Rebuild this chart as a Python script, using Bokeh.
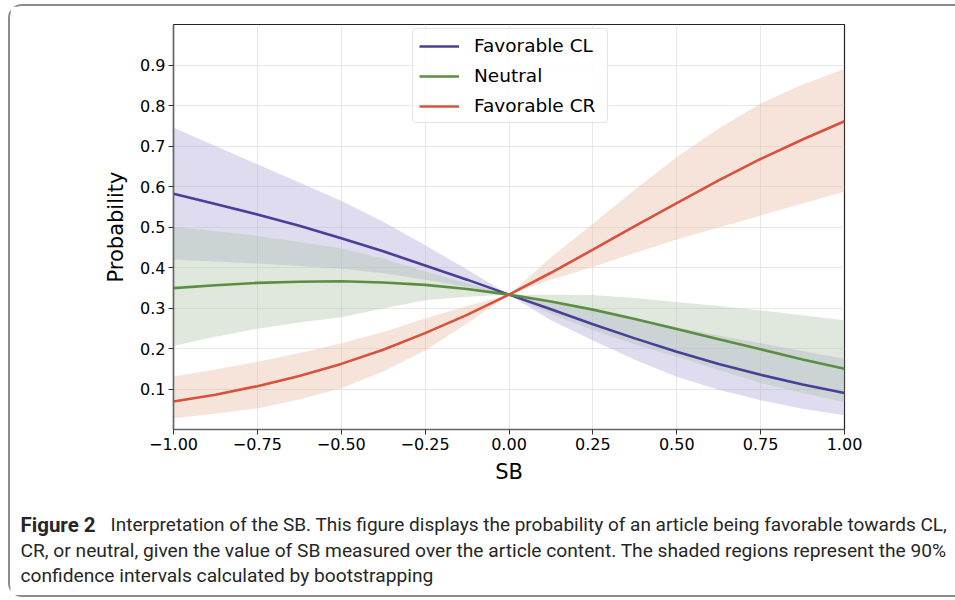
from bokeh.plotting import figure
from bokeh.layouts import column
from bokeh.models import FixedTicker, CustomJSTickFormatter, Range1d
from bokeh.core.properties import value
from bokeh.embed import file_html
from bokeh.resources import INLINE

# SB values at which the predicted probabilities are evaluated
sb = [-1.0, -0.875, -0.75, -0.625, -0.5, -0.375, -0.25, -0.125, 0.0,
      0.125, 0.25, 0.375, 0.5, 0.625, 0.75, 0.875, 1.0]

# Favorable CL: mean probability and 90% bootstrap interval
cl_mean = [0.582, 0.557, 0.531, 0.503, 0.472, 0.440, 0.405, 0.370, 0.333,
           0.297, 0.260, 0.225, 0.192, 0.162, 0.135, 0.111, 0.090]
cl_upper = [0.745, 0.700, 0.655, 0.610, 0.565, 0.513, 0.455, 0.395, 0.333,
            0.316, 0.298, 0.276, 0.252, 0.232, 0.213, 0.194, 0.175]
cl_lower = [0.420, 0.415, 0.410, 0.404, 0.397, 0.386, 0.370, 0.352, 0.333,
            0.270, 0.220, 0.172, 0.130, 0.098, 0.072, 0.051, 0.035]

# Neutral
neu_mean = [0.349, 0.356, 0.362, 0.365, 0.366, 0.363, 0.357, 0.347, 0.333,
            0.316, 0.296, 0.273, 0.248, 0.223, 0.198, 0.173, 0.150]
neu_upper = [0.500, 0.490, 0.478, 0.463, 0.447, 0.422, 0.390, 0.362, 0.333,
             0.333, 0.332, 0.325, 0.315, 0.305, 0.294, 0.282, 0.270]
neu_lower = [0.206, 0.229, 0.249, 0.264, 0.277, 0.299, 0.319, 0.328, 0.333,
             0.285, 0.245, 0.210, 0.180, 0.147, 0.115, 0.090, 0.068]

# Favorable CR
cr_mean = [0.069, 0.086, 0.107, 0.132, 0.162, 0.197, 0.238, 0.283, 0.333,
           0.387, 0.444, 0.502, 0.559, 0.615, 0.668, 0.716, 0.761]
cr_upper = [0.131, 0.148, 0.167, 0.189, 0.213, 0.241, 0.274, 0.305, 0.333,
            0.425, 0.508, 0.592, 0.673, 0.743, 0.805, 0.852, 0.890]
cr_lower = [0.028, 0.039, 0.052, 0.074, 0.102, 0.143, 0.195, 0.262, 0.333,
            0.370, 0.401, 0.436, 0.469, 0.499, 0.528, 0.558, 0.587]

x_ticks = [-1.0, -0.75, -0.5, -0.25, 0.0, 0.25, 0.5, 0.75, 1.0]
y_ticks = [0.1, 0.2, 0.3, 0.4, 0.5, 0.6, 0.7, 0.8, 0.9]

series = [
    ("Favorable CL", cl_mean, cl_lower, cl_upper, "#4a3f98", "#aca7d4"),
    ("Neutral", neu_mean, neu_lower, neu_upper, "#5b8f3f", "#b1c5ac"),
    ("Favorable CR", cr_mean, cr_lower, cr_upper, "#d9513a", "#e8bba5"),
]

caption_head = "Figure 2"
caption_first = ("Interpretation of the SB. This figure displays the probability "
                 "of an article being favorable towards CL,")
caption_rest = [
    "CR, or neutral, given the value of SB measured over the article content. "
    "The shaded regions represent the 90%",
    "confidence intervals calculated by bootstrapping",
]

# page geometry (panel border sits at x=8, y=4; content starts 2px inside)
OX, OY = 10, 6
W = 945
CHART_H = 490
CAP_H = 99
FRAME_L, FRAME_R, FRAME_T, FRAME_B = 173, 844, 24, 429

p = figure(width=W, height=CHART_H, output_backend="svg", toolbar_location=None,
           x_range=Range1d(-1.0, 1.0), y_range=Range1d(0.0, 1.0),
           min_border_left=FRAME_L - OX, min_border_right=W - (FRAME_R - OX),
           min_border_top=FRAME_T - OY, min_border_bottom=CHART_H - (FRAME_B - OY))
p.frame_align = False
p.background_fill_color = "white"
p.border_fill_color = "white"
p.outline_line_color = "#222222"
p.outline_line_width = 1.2

# shaded confidence bands
for name, mean, lo, hi, line_c, fill_c in series:
    p.varea(x=sb, y1=lo, y2=hi, fill_color=fill_c, fill_alpha=0.4)

# mean curves
for name, mean, lo, hi, line_c, fill_c in series:
    p.line(x=sb, y=mean, line_color=line_c, line_width=2.6, legend_label=name)

# axes
p.xaxis.ticker = FixedTicker(ticks=x_ticks)
p.yaxis.ticker = FixedTicker(ticks=y_ticks)
p.xaxis.formatter = CustomJSTickFormatter(
    code="return (tick < 0 ? '\u2212' : '') + Math.abs(tick).toFixed(2);")
p.yaxis.formatter = CustomJSTickFormatter(code="return tick.toFixed(1);")
p.xaxis.axis_label = "SB"
p.yaxis.axis_label = "Probability"
for ax in (p.xaxis, p.yaxis):
    ax.major_label_text_font = "DejaVu Sans"
    ax.major_label_text_font_size = "16px"
    ax.major_label_text_color = "#000000"
    ax.axis_label_text_font = "DejaVu Sans"
    ax.axis_label_text_font_size = "21px"
    ax.axis_label_text_font_style = "normal"
    ax.axis_label_text_color = "#000000"
    ax.major_tick_out = 5
    ax.major_tick_in = 0
    ax.minor_tick_line_color = None
    ax.major_tick_line_color = "#333333"
    ax.axis_line_color = "#666666"
    ax.axis_line_width = 1.5
    ax.major_label_standoff = 3
p.xaxis.axis_label_standoff = 7
p.yaxis.axis_label_standoff = 9

p.grid.grid_line_color = "#d8d8d8"
p.grid.grid_line_alpha = 0.6

# legend
lg = p.legend[0]
lg.location = (239, 306)
lg.label_text_font = "DejaVu Sans"
lg.label_text_font_size = "18.5px"
lg.label_text_color = "#000000"
lg.glyph_width = 40
lg.glyph_height = 20
lg.label_height = 20
lg.label_width = 127
lg.spacing = 9
lg.padding = 6
lg.margin = 0
lg.label_standoff = 15
lg.border_line_color = "#cccccc"
lg.border_line_width = 1
lg.background_fill_alpha = 0.8
lg.border_radius = 4

# caption panel, drawn in pixel coordinates (y grows downward)
pc = figure(width=W, height=CAP_H, output_backend="svg", toolbar_location=None,
            x_range=Range1d(0, W), y_range=Range1d(CAP_H, 0),
            x_axis_type=None, y_axis_type=None,
            min_border_left=0, min_border_right=0,
            min_border_top=0, min_border_bottom=0)
pc.frame_align = False
pc.grid.visible = False
pc.outline_line_color = None
pc.background_fill_color = "white"
pc.border_fill_color = "white"

cap_font = value("Roboto")
cap_color = "#262626"
pc.text(x=[10], y=[28], text=[caption_head], text_font=cap_font,
        text_font_size=value("20.5px"), text_font_style="bold", text_color=cap_color,
        text_baseline="alphabetic")
pc.text(x=[100], y=[28], text=[caption_first], text_font=cap_font,
        text_font_size=value("19px"), text_color=cap_color, text_baseline="alphabetic")
pc.text(x=[10, 10], y=[53.5, 79], text=caption_rest, text_font=cap_font,
        text_font_size=value("19.2px"), text_color=cap_color, text_baseline="alphabetic")

layout = column(p, pc, spacing=0,
                styles={"border-left": "2px solid #8c8c8c",
                        "border-top": "2px solid #8c8c8c",
                        "border-bottom": "2px solid #8c8c8c",
                        "border-top-left-radius": "14px",
                        "border-bottom-left-radius": "14px",
                        "margin-left": "8px", "margin-top": "4px"})

open("out.html", "w").write(file_html(layout, INLINE))
